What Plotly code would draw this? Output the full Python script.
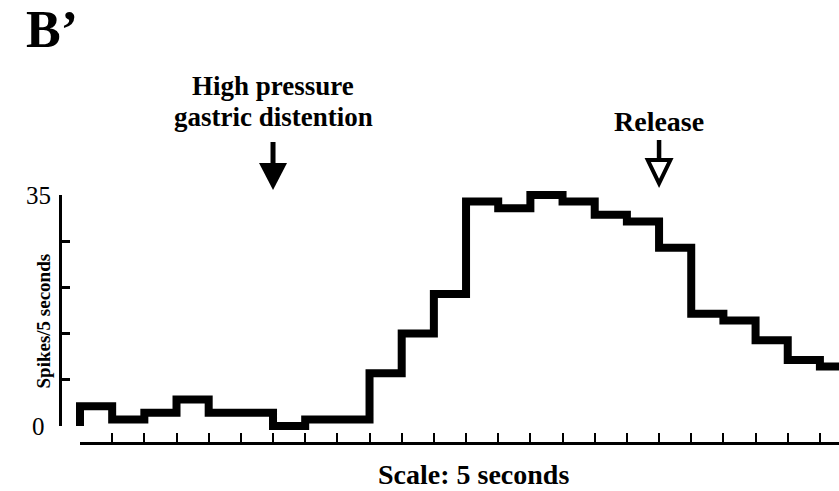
import plotly.graph_objects as go

# Spike counts per 5-second bin
bin_index = list(range(24))
spikes = [3, 1, 2, 4, 2, 2, 0, 1, 1, 8, 14, 20, 34, 33, 35, 34, 32, 31, 27, 17, 16, 13, 10, 9]

# y-axis ticks and the two printed tick labels
y_ticks = [0, 7, 14, 21, 28, 35]
y_tick_labels = {35: "35", 0: "0"}

# stimulus events: (bin edge, label lines, filled arrow?)
events = [
    (6, ["High pressure", "gastric distention"], True),
    (18, ["Release"], False),
]

W, H = 839, 491
X0_PX, BIN_PX = 80.0, 32.17      # pixel of bin 0 and width of one bin
Y0_PX, UNIT_PX = 426.0, 6.6      # pixel of zero spikes and pixels per spike


def px(p):
    return p / W


def py(p):
    return 1 - p / H


serif = "Liberation Serif, Times New Roman, serif"

# step outline: rise from zero at the first edge, then hold each bin's count
step_x = [bin_index[0]] + bin_index + [bin_index[-1] + 1]
step_y = [0] + spikes + [spikes[-1]]

fig = go.Figure()
fig.add_trace(go.Scatter(
    x=step_x, y=step_y, mode="lines", line_shape="hv",
    line=dict(color="black", width=8), showlegend=False, hoverinfo="skip",
))
# anchors the visible spine axes
fig.add_trace(go.Scatter(x=[], y=[], xaxis="x2", yaxis="y2", showlegend=False))

fig.update_layout(
    width=W, height=H,
    margin=dict(l=0, r=0, t=0, b=0),
    paper_bgcolor="white", plot_bgcolor="rgba(0,0,0,0)",
    xaxis=dict(domain=[0, 1], range=[-X0_PX / BIN_PX, (W - X0_PX) / BIN_PX], visible=False),
    yaxis=dict(domain=[0, 1], range=[-(H - Y0_PX) / UNIT_PX, Y0_PX / UNIT_PX], visible=False),
    xaxis2=dict(
        domain=[px(X0_PX), 1], range=[0, (W - X0_PX) / BIN_PX],
        anchor="free", position=py(442.7),
        showline=True, linecolor="black", linewidth=2.5,
        ticks="inside", ticklen=9, tickwidth=2, tickcolor="black",
        tickvals=bin_index, showticklabels=False, showgrid=False, zeroline=False,
    ),
    yaxis2=dict(
        domain=[py(Y0_PX), py(Y0_PX - 35 * UNIT_PX)], range=[0, 35],
        anchor="free", position=px(60),
        showline=True, linecolor="black", linewidth=3,
        ticks="inside", ticklen=8, tickwidth=3, tickcolor="black",
        tickvals=y_ticks, showticklabels=False, showgrid=False, zeroline=False,
    ),
)

annotations = []
shapes = []

# panel letter
annotations.append(dict(
    text="B’", xref="paper", yref="paper", x=px(24), y=py(29.5),
    xanchor="left", yanchor="middle", showarrow=False,
    font=dict(family=serif, size=52, color="black", weight="bold"),
))

# centred y tick labels
for val, lab in y_tick_labels.items():
    annotations.append(dict(
        text=lab, xref="paper", yref="y2", x=px(38.5), y=val,
        xanchor="center", yanchor="middle", showarrow=False,
        font=dict(family=serif, size=25, color="black"),
    ))

# axis titles
annotations.append(dict(
    text="Spikes/5 seconds", xref="paper", yref="paper", x=px(43), y=py(321.5),
    xanchor="center", yanchor="middle", textangle=-90, showarrow=False,
    font=dict(family=serif, size=19, color="black", weight="bold"),
))
annotations.append(dict(
    text="Scale: 5 seconds", xref="paper", yref="paper", x=px(473), y=py(474),
    xanchor="center", yanchor="middle", showarrow=False,
    font=dict(family=serif, size=28, color="black", weight="bold"),
))

# event labels and arrows
label_rows = {True: [86, 117], False: [121.3]}
label_size = {True: 27, False: 28}
for edge, lines, filled in events:
    for row_y, line in zip(label_rows[filled], lines):
        annotations.append(dict(
            text=line, xref="x", yref="paper", x=edge, y=py(row_y),
            xanchor="center", yanchor="middle", showarrow=False,
            font=dict(family=serif, size=label_size[filled], color="black", weight="bold"),
        ))
    if filled:
        tip = 190
        shapes.append(dict(
            type="line", xref="x", yref="paper", xsizemode="pixel", ysizemode="pixel",
            xanchor=edge, yanchor=py(tip), x0=0, x1=0, y0=26, y1=48,
            line=dict(color="black", width=5),
        ))
        shapes.append(dict(
            type="path", xref="x", yref="paper", xsizemode="pixel", ysizemode="pixel",
            xanchor=edge, yanchor=py(tip), path="M -14,27 L 14,27 L 0,0 Z",
            fillcolor="black", line=dict(width=0),
        ))
    else:
        tip = 188
        shapes.append(dict(
            type="line", xref="x", yref="paper", xsizemode="pixel", ysizemode="pixel",
            xanchor=edge, yanchor=py(tip), x0=0, x1=0, y0=28, y1=48,
            line=dict(color="black", width=4.5),
        ))
        shapes.append(dict(
            type="path", xref="x", yref="paper", xsizemode="pixel", ysizemode="pixel",
            xanchor=edge, yanchor=py(tip), path="M -11.3,28 L 11.3,28 L 0,4.6 Z",
            fillcolor="white", line=dict(color="black", width=4),
        ))

fig.update_layout(annotations=annotations, shapes=shapes)

fig.write_html("out.html")
